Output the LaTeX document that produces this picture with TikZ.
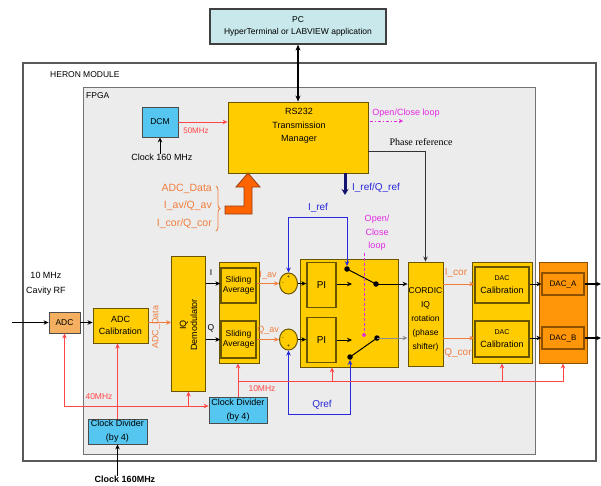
\documentclass[tikz,border=0pt]{standalone}
\usepackage{fontspec}
\setmainfont{Liberation Sans}
\newfontfamily\phasefont{Liberation Serif}
\usetikzlibrary{arrows.meta,decorations.pathreplacing,shapes.geometric}
\definecolor{ygold}{RGB}{255,204,0}
\definecolor{yedge}{RGB}{105,85,0}
\definecolor{skyb}{RGB}{85,198,240}
\definecolor{dacor}{RGB}{255,150,10}
\definecolor{dacedge}{RGB}{140,80,0}
\definecolor{adcor}{RGB}{244,176,96}
\definecolor{pcfill}{RGB}{200,232,236}
\definecolor{fpgabg}{RGB}{236,236,236}
\definecolor{txtor}{RGB}{240,125,60}
\definecolor{clkred}{RGB}{255,70,70}
\definecolor{refblue}{RGB}{40,40,220}
\definecolor{navyb}{RGB}{20,20,110}
\definecolor{magc}{RGB}{225,40,225}
\definecolor{arrowor}{RGB}{255,100,0}
\definecolor{arrowedge}{RGB}{150,60,20}
\begin{document}
\begin{tikzpicture}[x=1pt,y=-1pt,
  font=\fontsize{8.5}{10.5}\selectfont,
  ybox/.style={draw=yedge, fill=ygold, line width=0.9pt, inner sep=0pt, align=center},
  ibox/.style={draw=yedge, fill=ygold, line width=1.3pt, inner sep=0pt, align=center},
  bbox/.style={draw=black!70, fill=skyb, line width=0.8pt, inner sep=0pt, align=center},
  obox/.style={draw=dacedge, fill=dacor, line width=0.9pt, inner sep=0pt, align=center},
  txt/.style={inner sep=0pt, align=center},
  arr/.style={-{Stealth[length=5pt,width=4.5pt]}, line width=0.8pt},
  clk/.style={draw=clkred, line width=0.9pt},
  clkarr/.style={clk, -{Stealth[length=5pt,width=4.5pt]}},
  bluel/.style={draw=refblue, line width=0.9pt, {Stealth[length=5pt,width=4.5pt]}-{Stealth[length=5pt,width=4.5pt]}},
  swdot/.style={circle, fill=black, inner sep=0pt, minimum size=5.5pt},
  sumc/.style={ellipse, draw=yedge, fill=ygold, line width=1pt, minimum width=18pt, minimum height=21pt, inner sep=0pt}
]
\useasboundingbox (0,0) rectangle (601,485);
\fill[white] (0,0) rectangle (601,485);

% outer frames
\node[draw=black!65, line width=1.3pt, minimum width=573pt, minimum height=398pt, inner sep=0pt] (mod) at (309.5,262) {};
\node[draw=black!55, fill=fpgabg, line width=1pt, minimum width=452pt, minimum height=367pt, inner sep=0pt] (fpga) at (309,270.5) {};
\node[txt, anchor=west] (modl) at (50,75) {HERON MODULE};
\node[txt, anchor=west] (fpgal) at (86,96) {FPGA};

% PC
\node[draw=black!75, fill=pcfill, line width=1.2pt, minimum width=176pt, minimum height=35pt, inner sep=0pt, align=center] (pc) at (298,26.5) {PC\\[2pt]HyperTerminal or LABVIEW application};

% RS232
\node[ybox, minimum width=140pt, minimum height=71pt] (rs) at (298,137.5) {};
\node[txt, font=\fontsize{9}{13.5}\selectfont] (rstxt) at (299,126) {RS232\\Transmission\\Manager};
\draw[{Stealth[length=6pt,width=5pt]}-{Stealth[length=6pt,width=5pt]}, line width=1.5pt] (pc.south) -- (rs.north);

% DCM
\node[bbox, minimum width=36pt, minimum height=30pt] (dcm) at (160,122) {DCM};
\node[txt, font=\fontsize{9}{11}\selectfont] (clk160) at (162,157) {Clock 160 MHz};
\draw[arr] (clk160.north -| dcm.south) -- (dcm.south);
\draw[clkarr] (dcm.east) -- (rs.west |- dcm.east);
\node[txt, text=clkred, font=\fontsize{8}{10}\selectfont] (f50) at (196,131) {50MHz};

% Open/Close loop (top)
\node[txt, text=magc, font=\fontsize{9}{11}\selectfont] (ocl) at (406,113) {Open/Close loop};
\coordinate (ocla) at (370,121);
\coordinate (oclb) at (403,121);
\draw[magc, line width=0.9pt, dash pattern=on 3pt off 2pt on 1pt off 2pt, -{Stealth[length=4pt,width=4pt]}] (ocla) -- (oclb);

% Phase reference
\coordinate (phy) at (0,151);
\node[txt, font=\phasefont\fontsize{10}{12}\selectfont] (phtxt) at (421,142) {Phase reference};

% I_ref/Q_ref
\coordinate (iqe) at (345,195);
\draw[navyb, line width=3pt, -{Stealth[length=6pt,width=7pt]}] (rs.south -| iqe) -- (iqe);
\node[txt, text=refblue, font=\fontsize{10}{12}\selectfont] (iqtxt) at (376,188) {I\_ref/Q\_ref};

% ADC data bracket and big orange arrow
\node[txt, anchor=east, align=right, text=txtor, font=\fontsize{10.5}{17.5}\selectfont] (adtxt) at (212,206) {ADC\_Data\\I\_av/Q\_av\\I\_cor/Q\_cor};
\draw[txtor, line width=0.8pt, decorate, decoration={brace, amplitude=4pt}] (216,186) -- (216,231);
\draw[fill=arrowor, draw=arrowedge, line width=0.8pt, line join=miter]
  (225,206) -- (244,206) -- (244,187) -- (236,187) -- (248,173) -- (260,187) -- (252,187) -- (252,214) -- (225,214) -- cycle;

% left chain
\node[draw=black!70, fill=adcor, line width=0.8pt, minimum width=31pt, minimum height=21pt, inner sep=0pt] (adc) at (64.5,322.5) {ADC};
\node[ybox, minimum width=55pt, minimum height=35pt, font=\fontsize{9}{12.5}\selectfont] (adccal) at (120.5,325.5) {ADC\\Calibration};
\node[txt, font=\fontsize{9}{15}\selectfont] (rftxt) at (46,284) {10 MHz\\Cavity RF};
\coordinate (rfin) at (12,322.5);
\draw[arr, line width=1.3pt] (rfin) -- (adc.west);
\draw[arr] (adc.east) -- (adccal.west |- adc.east);

\node[ybox, minimum width=34pt, minimum height=135pt] (demod) at (188.5,323.5) {};
\node[txt, rotate=90, font=\fontsize{9}{11}\selectfont] (demtxt) at (188.5,325) {IQ\\Demodulator};
\draw[arr, draw=txtor] (adccal.east |- adc.east) -- (demod.west |- adc.east);
\node[txt, rotate=90, text=txtor, font=\fontsize{9}{11}\selectfont] (adtxt2) at (156,327) {ADC\_Data};

% sliding averages
\node[ybox, minimum width=40pt, minimum height=101pt] (saout) at (239,312.5) {};
\node[ibox, minimum width=35pt, minimum height=35pt] (sa1) at (238.5,285.5) {Sliding\\Average};
\node[ibox, minimum width=35pt, minimum height=37pt] (sa2) at (238.5,339.5) {Sliding\\Average};

% sums
\node[sumc] (sum1) at (288.5,283.5) {};
\node[sumc] (sum2) at (288.5,339.5) {};
\node[txt, font=\fontsize{5}{5}\selectfont] (p1) at (288.5,277) {+};
\node[txt, font=\fontsize{5}{5}\selectfont] (m1) at (283,284) {-};
\node[txt, font=\fontsize{5}{5}\selectfont] (p2) at (288.5,346) {+};
\node[txt, font=\fontsize{5}{5}\selectfont] (m2) at (283,339) {-};

\draw[arr] (demod.east |- sum1) -- (sa1.west |- sum1);
\draw[arr] (demod.east |- sum2) -- (sa2.west |- sum2);
\node[txt] (ilab) at (211,273) {I};
\node[txt] (qlab) at (211,328) {Q};
\draw[arr, draw=txtor] (sa1.east |- sum1) -- (sum1.west);
\draw[arr, draw=txtor] (sa2.east |- sum2) -- (sum2.west);
\node[txt, text=txtor, font=\fontsize{9}{11}\selectfont] (iav) at (268,275) {I\_av};
\node[txt, text=txtor, font=\fontsize{9}{11}\selectfont] (qav) at (268,330) {Q\_av};

% PI block
\node[ybox, minimum width=98pt, minimum height=108pt] (piout) at (349,313) {};
\node[ibox, minimum width=29pt, minimum height=45pt, font=\fontsize{10}{12}\selectfont] (pi1) at (321.5,285) {PI};
\node[ibox, minimum width=29pt, minimum height=45pt, font=\fontsize{10}{12}\selectfont] (pi2) at (321.5,340) {PI};
\draw[arr] (sum1.east) -- (pi1.west |- sum1);
\draw[arr] (sum2.east) -- (pi2.west |- sum2);

% switches
\node[swdot] (s1a) at (347,269) {};
\node[swdot] (s1o) at (376,284) {};
\node[swdot] (s2a) at (350,357) {};
\node[swdot] (s2o) at (377,338) {};
\coordinate (s1b) at (352,284);
\coordinate (s2b) at (352,340);
\draw[arr] (pi1.east |- s1b) -- (s1b);
\draw[arr] (pi2.east |- s2b) -- (s2b);
\draw[line width=1pt] (s1a.center) -- (s1o.center);
\draw[line width=1pt] (s2a.center) -- (s2o.center);

% second Open/Close loop
\node[txt, text=magc, font=\fontsize{9}{13.5}\selectfont] (ocl2) at (377,233) {Open/\\Close\\loop};
\coordinate (mgtop) at (364,253);
\coordinate (mgbot) at (364,337);
\draw[magc, line width=1pt, dash pattern=on 3pt off 2pt, -{Circle[length=4pt]}] (mgtop) -- (mgbot);

% I_ref, Qref
\coordinate (irefc) at (347,217);
\draw[bluel] (sum1.north) |- (irefc) -- (s1a.north);
\node[txt, text=refblue, font=\fontsize{10}{12}\selectfont] (ireft) at (318,208) {I\_ref};
\coordinate (qrefc) at (350,414);
\draw[bluel] (sum2.south) |- (qrefc) -- (s2a.south);
\node[txt, text=refblue, font=\fontsize{10}{12}\selectfont] (qreft) at (322,405) {Qref};

% CORDIC
\node[ybox, minimum width=35pt, minimum height=104pt] (cordic) at (425.5,314) {};
\node[txt, font=\fontsize{8.5}{14}\selectfont] (cordtxt) at (425.5,319) {CORDIC\\IQ\\rotation\\(phase\\shifter)};
\draw[arr] (s1o.center) -- (cordic.west |- s1o);
\draw[arr, draw=black!45] (s2o.center) -- (cordic.west |- s2o);
\draw[arr, draw=black!80] (rs.east |- phy) -| (cordic.north);

% DAC calibration
\node[ybox, minimum width=60pt, minimum height=101pt] (dacout) at (502,312.5) {};
\node[ibox, minimum width=54pt, minimum height=36pt, font=\fontsize{9}{13}\selectfont] (dc1) at (502,285) {{\fontsize{7}{9}\selectfont DAC}\\Calibration};
\node[ibox, minimum width=54pt, minimum height=36pt, font=\fontsize{9}{13}\selectfont] (dc2) at (502,339) {{\fontsize{7}{9}\selectfont DAC}\\Calibration};
\draw[arr, draw=txtor, line width=0.7pt] (cordic.east |- s1o) -- (dc1.west |- s1o);
\draw[arr, draw=txtor, line width=0.7pt] (cordic.east |- s2o) -- (dc2.west |- s2o);
\node[txt, text=txtor, font=\fontsize{10}{12}\selectfont] (icor) at (456,273) {I\_cor};
\node[txt, text=txtor, font=\fontsize{10}{12}\selectfont] (qcor) at (458,353) {Q\_cor};

% DAC
\node[obox, minimum width=48pt, minimum height=101pt] (dac) at (563,312.5) {};
\node[obox, line width=1.2pt, minimum width=42pt, minimum height=22pt, font=\fontsize{8}{10}\selectfont] (daca) at (563,284) {DAC\_A};
\node[obox, line width=1.2pt, minimum width=42pt, minimum height=22pt, font=\fontsize{8}{10}\selectfont] (dacb) at (563,338) {DAC\_B};
\draw[arr] (dc1.east |- daca) -- (daca.west);
\draw[arr] (dc2.east |- dacb) -- (dacb.west);
\coordinate (outa) at (601,284);
\coordinate (outb) at (601,338);
\draw[arr, line width=1.3pt] (daca.east) -- (outa);
\draw[arr, line width=1.3pt] (dacb.east) -- (outb);

% clock dividers
\node[bbox, minimum width=58pt, minimum height=26pt, font=\fontsize{9}{14}\selectfont] (cd2) at (238,410) {Clock Divider\\(by 4)};
\node[bbox, minimum width=59pt, minimum height=25pt, font=\fontsize{9}{14}\selectfont] (cd1) at (117.5,431.5) {Clock Divider\\(by 4)};
\node[txt, font=\bfseries\fontsize{9}{11}\selectfont] (clkb) at (125,479) {Clock 160MHz};
\draw[arr, line width=1.5pt] (cd1.south |- clkb.north) -- (cd1.south);

% red clock lines
\draw[clkarr] (cd1.north) -- (cd1.north |- adccal.south);
\coordinate (y40) at (0,406);
\draw[clk, {Stealth[length=5pt,width=4.5pt]}-{Stealth[length=5pt,width=4.5pt]}] (adc.south) |- (cd2.west |- y40);
\draw[clkarr] (demod.south |- y40) -- (demod.south);
\node[txt, text=clkred, font=\fontsize{8.5}{10}\selectfont] (f40) at (99,397) {40MHz};
\coordinate (y10) at (0,381);
\draw[clkarr] (cd2.north) -- (cd2.north |- saout.south);
\draw[clkarr] (cd2.north |- y10) -| (dac.south);
\coordinate (b1) at (332,381);
\draw[clkarr] (b1) -- (b1 |- piout.south);
\draw[clkarr] (dacout.south |- y10) -- (dacout.south);
\node[txt, text=clkred, font=\fontsize{8.5}{10}\selectfont] (f10) at (262,389) {10MHz};
\end{tikzpicture}
\end{document}
